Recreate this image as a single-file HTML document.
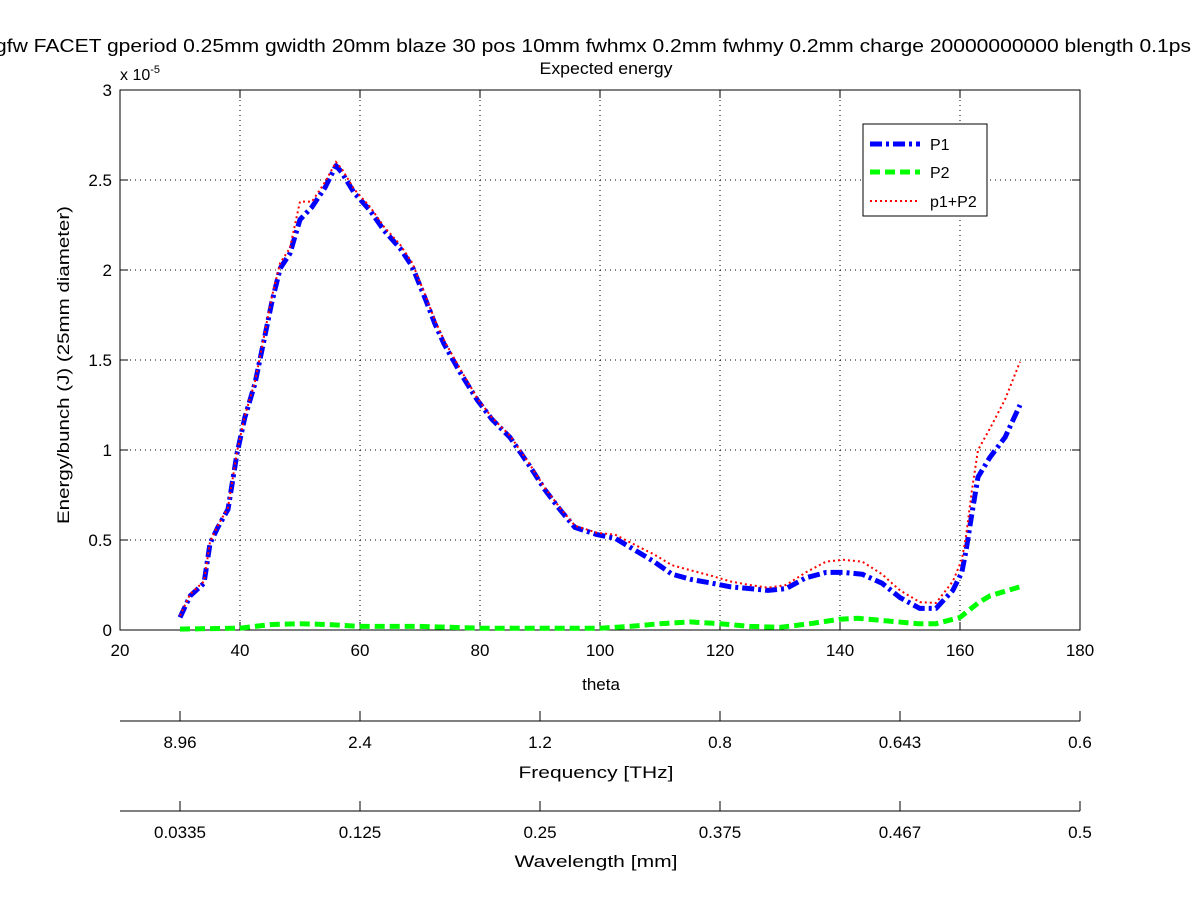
<!DOCTYPE html>
<html><head><meta charset="utf-8"><style>
body{margin:0;background:#fff;}
svg{display:block;font-family:"Liberation Sans",sans-serif;}
</style></head><body>
<svg id="chart" width="1200" height="901" viewBox="0 0 1200 901">
<rect x="0" y="0" width="1200" height="901" fill="#fff"/>
<text x="593" y="52" text-anchor="middle" font-size="18" textLength="1196" lengthAdjust="spacingAndGlyphs">gfw FACET gperiod 0.25mm gwidth 20mm blaze 30 pos 10mm fwhmx 0.2mm fwhmy 0.2mm charge 20000000000 blength 0.1ps</text>
<text x="606" y="74" text-anchor="middle" font-size="17" textLength="133" lengthAdjust="spacingAndGlyphs">Expected energy</text>
<g id="grid"></g>
<rect x="120" y="90" width="960" height="540" fill="none" stroke="#000" stroke-width="1"/>
<g id="axes"></g>
<g id="series"></g>
<text x="120" y="80" font-size="16">x 10<tspan dy="-7" font-size="11">-5</tspan></text>
<text transform="translate(69,365) rotate(-90)" text-anchor="middle" font-size="17" textLength="318" lengthAdjust="spacingAndGlyphs">Energy/bunch (J) (25mm diameter)</text>
<text x="601" y="690" text-anchor="middle" font-size="17">theta</text>
<text x="596" y="778" text-anchor="middle" font-size="17" textLength="155" lengthAdjust="spacingAndGlyphs">Frequency [THz]</text>
<text x="596" y="867" text-anchor="middle" font-size="17" textLength="163" lengthAdjust="spacingAndGlyphs">Wavelength [mm]</text>
<g>
<rect x="863" y="124" width="124" height="92" fill="#fff" stroke="#000" stroke-width="1"/>
<line x1="870" y1="144" x2="920" y2="144" stroke="#0000ff" stroke-width="5" stroke-dasharray="12,4,3,4"/>
<text x="930" y="150" font-size="16">P1</text>
<line x1="870" y1="172" x2="920" y2="172" stroke="#00ff00" stroke-width="5" stroke-dasharray="10,5"/>
<text x="930" y="178" font-size="16">P2</text>
<line x1="870" y1="201" x2="920" y2="201" stroke="#ff0000" stroke-width="2" stroke-dasharray="2,3"/>
<text x="930" y="207" font-size="16">p1+P2</text>
</g>
</svg>
<script>
const thetaP1 = [30,31.7,34,35,36.3,38,39.5,40.8,42.5,44,45.3,46.7,48.3,50,52,54.2,56,57,59,61.7,64,66.7,68.7,71,72.5,74,76.7,79.5,82,85,88.3,90.8,93.3,95.8,99.5,102.5,106,109,112,115.3,118.7,121.7,125,128,131,134.3,137.7,140.5,143.7,147,150,153.3,156,158.8,160.3,161,162,163,165,167.5,170];
const p1Values = [0.07,0.19,0.26,0.48,0.57,0.67,0.98,1.18,1.37,1.61,1.82,2.01,2.09,2.28,2.35,2.46,2.58,2.54,2.43,2.33,2.22,2.12,2.02,1.83,1.70,1.59,1.43,1.28,1.17,1.07,0.91,0.78,0.67,0.57,0.53,0.51,0.44,0.38,0.31,0.28,0.26,0.24,0.23,0.22,0.23,0.29,0.32,0.32,0.31,0.26,0.18,0.12,0.12,0.22,0.32,0.44,0.65,0.85,0.96,1.07,1.25];
const sumValues = [0.08,0.2,0.27,0.49,0.58,0.68,0.99,1.19,1.38,1.63,1.85,2.04,2.12,2.38,2.38,2.49,2.6,2.56,2.45,2.35,2.24,2.14,2.04,1.85,1.72,1.61,1.45,1.29,1.18,1.08,0.92,0.79,0.68,0.58,0.54,0.53,0.47,0.42,0.36,0.33,0.30,0.27,0.25,0.235,0.25,0.32,0.38,0.39,0.38,0.31,0.22,0.155,0.15,0.27,0.39,0.52,0.78,1.0,1.12,1.28,1.49];
const thetaP2 = [30,35,40,45,50,55,60,70,80,90,100,105,110,115,120,125,130,135,140,143,148,153,156,160,163,165,168,170];
const p2Values = [0.005,0.008,0.01,0.03,0.035,0.03,0.02,0.02,0.01,0.01,0.01,0.02,0.035,0.045,0.035,0.02,0.015,0.035,0.06,0.065,0.05,0.035,0.035,0.07,0.15,0.19,0.22,0.24];
const xTicks = [20,40,60,80,100,120,140,160,180];
const yTicks = [0,0.5,1,1.5,2,2.5,3];
const freqLabels = ["8.96","2.4","1.2","0.8","0.643","0.6"];
const waveLabels = ["0.0335","0.125","0.25","0.375","0.467","0.5"];
const secTickTheta = [30,60,90,120,150,180];

const NS="http://www.w3.org/2000/svg";
const X = t => 120 + (t-20)*960/160;
const Y = v => 630 - v*540/3;
function mk(tag, attrs, parent){const e=document.createElementNS(NS,tag);for(const k in attrs)e.setAttribute(k,attrs[k]);parent.appendChild(e);return e;}
const grid=document.getElementById('grid'), axes=document.getElementById('axes'), series=document.getElementById('series');
xTicks.forEach((t,i)=>{
  if(i>0&&i<xTicks.length-1){const g=mk('line',{x1:X(t),x2:X(t),y1:90,y2:630,stroke:'#000','stroke-width':1,'stroke-dasharray':'1,4'},grid);
  
  }
  mk('line',{x1:X(t),x2:X(t),y1:630,y2:622,stroke:'#000'},axes);
  mk('line',{x1:X(t),x2:X(t),y1:90,y2:98,stroke:'#000'},axes);
  const tx=mk('text',{x:X(t),y:656,'text-anchor':'middle','font-size':17},axes);
  tx.textContent=t;
  
  
});
yTicks.forEach((v,i)=>{
  if(i>0&&i<yTicks.length-1){const g=mk('line',{x1:120,x2:1080,y1:Y(v),y2:Y(v),stroke:'#000','stroke-width':1,'stroke-dasharray':'1,4'},grid);
  
  }
  mk('line',{x1:120,x2:128,y1:Y(v),y2:Y(v),stroke:'#000'},axes);
  mk('line',{x1:1080,x2:1072,y1:Y(v),y2:Y(v),stroke:'#000'},axes);
  const tx=mk('text',{x:112,y:Y(v)+6,'text-anchor':'end','font-size':17},axes);
  tx.textContent=v;
  
  
});
[[721,freqLabels,'frequency'],[811,waveLabels,'wavelength']].forEach(([ay,labels,nm])=>{
  const l=mk('line',{x1:120,x2:1080,y1:ay,y2:ay,stroke:'#000'},axes);
  
  
  secTickTheta.forEach((t,i)=>{
    mk('line',{x1:X(t),x2:X(t),y1:ay,y2:ay-10,stroke:'#000'},axes);
    const tx=mk('text',{x:X(t),y:ay+27,'text-anchor':'middle','font-size':17},axes);
    tx.textContent=labels[i];
    
    
  });
});
function path(xs,vs){return xs.map((t,i)=>(i?'L':'M')+X(t).toFixed(1)+','+Y(vs[i]).toFixed(1)).join(' ');}
const pb=mk('path',{d:path(thetaP1,p1Values),fill:'none',stroke:'#0000ff','stroke-width':5,'stroke-dasharray':'12,4,3,4','stroke-linejoin':'round'},series);


const pg=mk('path',{d:path(thetaP2,p2Values),fill:'none',stroke:'#00ff00','stroke-width':5,'stroke-dasharray':'10,5'},series);


const pr=mk('path',{d:path(thetaP1,sumValues),fill:'none',stroke:'#ff0000','stroke-width':2,'stroke-dasharray':'2,3'},series);


</script>
</body></html>
